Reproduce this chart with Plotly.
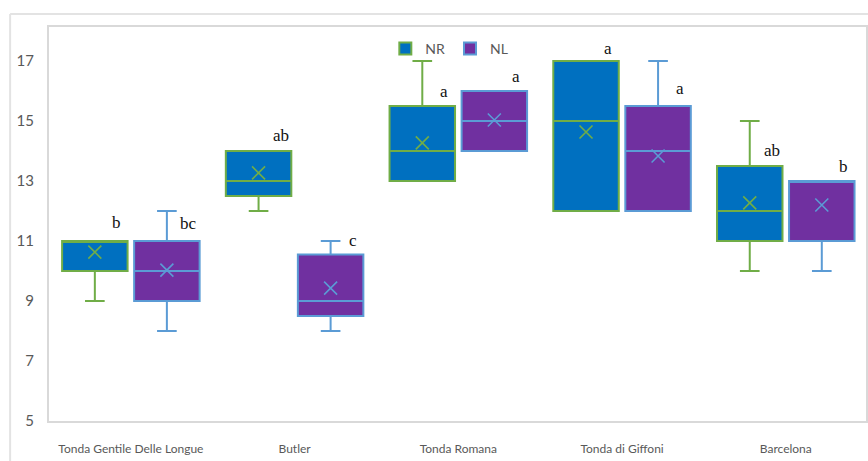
import plotly.graph_objects as go

categories = ["Tonda Gentile Delle Longue", "Butler", "Tonda Romana", "Tonda di Giffoni", "Barcelona"]

# NR series stats
nr_q1 = [10, 12.5, 13, 12, 11]
nr_median = [11, 13, 14, 15, 12]
nr_q3 = [11, 14, 15.5, 17, 13.5]
nr_low = [9, 12, 13, 12, 10]
nr_high = [11, 14, 17, 17, 15]
nr_mean = [10.63, 13.27, 14.27, 14.63, 12.27]
nr_letters = ["b", "ab", "a", "a", "ab"]
nr_letter_y = [11.63, 14.53, 15.97, 17.43, 14.03]

# NL series stats
nl_q1 = [9, 8.5, 14, 12, 11]
nl_median = [10, 9, 15, 14, 13]
nl_q3 = [11, 10.55, 16, 15.5, 13]
nl_low = [8, 8, 14, 12, 10]
nl_high = [12, 11, 16, 17, 13]
nl_mean = [10.03, 9.43, 15.03, 13.83, 12.2]
nl_letters = ["bc", "c", "a", "a", "b"]
nl_letter_y = [11.57, 11.03, 16.47, 16.07, 13.47]

yticks = [5, 7, 9, 11, 13, 15, 17]

NR_FILL, NR_LINE = "#0070C0", "#70AD47"
NL_FILL, NL_LINE = "#7030A0", "#5B9BD5"

OFF = 0.22      # box centre offset from category centre (category units)
BW = 0.40       # box width (category units)

idx = list(range(len(categories)))
x_nr = [i - OFF for i in idx]
x_nl = [i + OFF for i in idx]

fig = go.Figure()

series = [
    ("NR", x_nr, nr_q1, nr_median, nr_q3, nr_low, nr_high, nr_mean, NR_FILL, NR_LINE),
    ("NL", x_nl, nl_q1, nl_median, nl_q3, nl_low, nl_high, nl_mean, NL_FILL, NL_LINE),
]
for name, xs, q1, med, q3, lo, hi, mean, fill, line in series:
    fig.add_trace(go.Box(
        name=name, x=xs, q1=q1, median=med, q3=q3, lowerfence=lo, upperfence=hi,
        width=BW, fillcolor=fill, line=dict(color=line, width=2),
        whiskerwidth=0.3, boxpoints=False, showlegend=True,
    ))
for name, xs, q1, med, q3, lo, hi, mean, fill, line in series:
    fig.add_trace(go.Scatter(
        x=xs, y=mean, mode="markers", showlegend=False, hoverinfo="skip",
        marker=dict(symbol="x-thin-open", size=13, color=line, line=dict(color=line, width=1.6)),
    ))

for xs, letters, ly in [(x_nr, nr_letters, nr_letter_y), (x_nl, nl_letters, nl_letter_y)]:
    for x, t, y in zip(xs, letters, ly):
        fig.add_annotation(x=x, y=y, text=t, showarrow=False, xshift=22,
                           font=dict(family="Liberation Serif", size=17, color="#111111"))

# outer chart-area border (light gray)
fig.add_shape(type="line", xref="paper", yref="paper", x0=-0.0476, x1=1.02, y0=1.033, y1=1.033,
              line=dict(color="#E3E3E3", width=2))
fig.add_shape(type="line", xref="paper", yref="paper", x0=-0.0476, x1=-0.0476, y0=1.033, y1=-0.12,
              line=dict(color="#E3E3E3", width=2))

fig.update_layout(
    width=868, height=461,
    margin=dict(l=49, r=0, t=27, b=40),
    paper_bgcolor="white", plot_bgcolor="white",
    font=dict(family="Lato", color="#595959"),
    legend=dict(orientation="h", x=0.49, xanchor="center", y=0.985, yanchor="top",
                font=dict(size=14, color="#595959"), itemwidth=30, bgcolor="rgba(0,0,0,0)"),
    xaxis=dict(range=[-0.5, 4.49], tickmode="array", tickvals=idx, ticktext=categories,
               showgrid=False, zeroline=False, showline=True, mirror=True,
               linecolor="#D9D9D9", linewidth=2, ticks="", ticklabelstandoff=16,
               tickfont=dict(size=12, color="#595959")),
    yaxis=dict(range=[5, 18.13], tickmode="array", tickvals=yticks,
               showgrid=False, zeroline=False, showline=True, mirror=True,
               linecolor="#D9D9D9", linewidth=2, ticks="", ticklabelstandoff=10,
               tickfont=dict(size=15, color="#595959")),
)

fig.write_html("out.html")
